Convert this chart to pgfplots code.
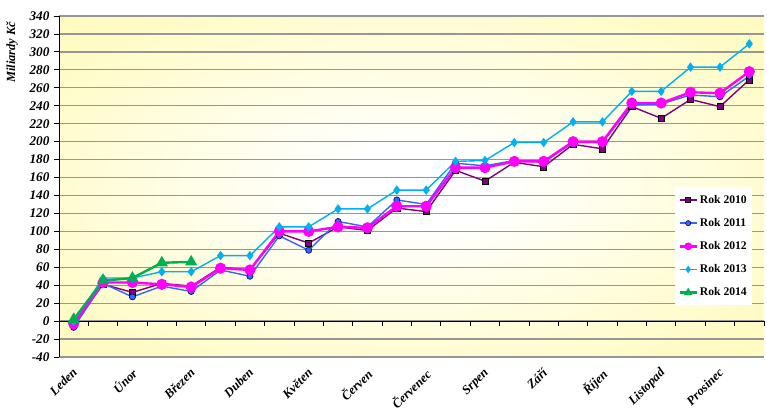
\documentclass[border=0pt]{standalone}
\usepackage{fontspec}
\setmainfont{Liberation Serif}
\usepackage{pgfplots}
\pgfplotsset{compat=1.18}

\definecolor{c2010}{RGB}{128,0,128}
\definecolor{c2011}{RGB}{51,102,255}
\definecolor{c2012}{RGB}{255,0,255}
\definecolor{c2013}{RGB}{0,176,240}
\definecolor{c2014}{RGB}{0,176,80}
\definecolor{gridgray}{RGB}{150,150,150}
\definecolor{bgyel}{RGB}{255,249,168}
\definecolor{bgmid}{RGB}{255,251,195}
\definecolor{bgin}{RGB}{255,254,235}

\pgfdeclareradialshading{plotbg}{\pgfpoint{0bp}{0bp}}{color(0bp)=(white); color(6bp)=(white); color(14bp)=(bgin); color(32bp)=(bgmid); color(52bp)=(bgyel); color(80bp)=(bgyel)}

\pgfplotstableread{
i  y2010 y2011 y2012 y2013
0  -3   -7   -3    0
1  41   42   43   48
2  32   27   43   48
3  42   39   41   55
4  39   33   38   55
5  60   57   59   73
6  57   50   57   73
7  98   95   100  105
8  87   79   100  105
9  105  111  105  125
10 101  105  104  125
11 126  135  128  146
12 122  130  128  146
13 168  176  171  178
14 156  173  171  179
15 177  179  178  199
16 172  177  178  199
17 197  199  200  222
18 192  199  200  222
19 239  241  243  256
20 226  242  243  256
21 247  252  255  283
22 239  250  254  283
23 269  273  278  309
}\maindata

\pgfplotstableread{
i  y2014
0  2
1  45
2  48
3  65
4  66
}\dataXIV

\begin{document}
\begin{tikzpicture}
\useasboundingbox (-59bp,-53bp) rectangle (708bp,357bp);
\begin{axis}[
  scale only axis, width=705bp, height=341bp,
  xmin=-0.5, xmax=23.5, ymin=-40, ymax=340,
  axis lines*=left, axis line style={-},
  x axis line style={draw=none},
  y axis line style={black, line width=0.9bp},
  axis background/.style={shading=plotbg},
  ytick={-40,-20,...,340},
  yticklabels={-40,-20,0,20,40,60,80,100,120,140,160,180,200,220,240,260,280,300,320,340},
  ymajorgrids, grid style={gridgray, line width=1.3bp},
  tick align=outside, major tick length=5bp,
  ytick style={black, line width=0.8bp},
  xtick style={draw=none},
  xtick={0,2,...,22},
  xticklabels={Leden,Únor,Březen,Duben,Květen,Červen,Červenec,Srpen,Září,Říjen,Listopad,Prosinec},
  x tick label style={xshift=-2bp, yshift=-3.5bp, rotate=45, anchor=north east, font=\bfseries\itshape\fontsize{12.8}{12.8}\selectfont, inner sep=1bp},
  y tick label style={font=\bfseries\itshape\fontsize{13.3}{13.3}\selectfont, xshift=-1bp},
  clip=false,
  legend style={at={(0.983,0.4985)}, anchor=north east, draw=none, fill=white,
    font=\bfseries\fontsize{11.7}{12}\selectfont, row sep=9.6bp, inner xsep=3bp, inner ysep=6bp},
  legend image post style={mark size=2.6bp},
  legend cell align=left,
]
\draw[black, line width=0.9bp] (axis cs:-0.5,0) -- (axis cs:23.5,0);
\pgfplotsinvokeforeach{0,...,23}{\draw[black, line width=0.8bp] (axis cs:#1.5,0) -- ++(0bp,-5bp);}

\addplot[c2010, line width=1.4bp, mark=square*, mark size=3.1bp, mark options={fill=c2010, draw=black, line width=0.6bp}] table[x=i, y=y2010] {\maindata};
\addlegendentry{Rok 2010}
\addplot[c2011, line width=1.4bp, mark=*, mark size=3.1bp, mark options={fill=c2011, draw=black!70!blue, line width=0.6bp}] table[x=i, y=y2011] {\maindata};
\addlegendentry{Rok 2011}
\addplot[c2012, line width=2.4bp, mark=*, mark size=4.3bp, mark options={fill=c2012, draw=c2012}] table[x=i, y=y2012] {\maindata};
\addlegendentry{Rok 2012}
\addplot[c2013, line width=1.4bp, mark=diamond*, mark size=3.6bp, mark options={fill=c2013, draw=c2013}] table[x=i, y=y2013] {\maindata};
\addlegendentry{Rok 2013}
\addplot[c2014, line width=2.4bp, mark=triangle*, mark size=4.6bp, mark options={fill=c2014, draw=c2014}] table[x=i, y=y2014] {\dataXIV};
\addlegendentry{Rok 2014}

\node[rotate=90, font=\bfseries\itshape\fontsize{12.5}{12.5}\selectfont] at ([xshift=-47bp]rel axis cs:0,0.894) {Miliardy Kč};
\end{axis}
\end{tikzpicture}
\end{document}
